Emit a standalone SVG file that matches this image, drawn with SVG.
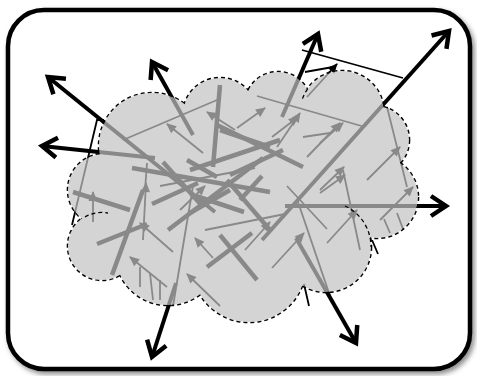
<svg xmlns="http://www.w3.org/2000/svg" xmlns:xlink="http://www.w3.org/1999/xlink" width="477" height="376" viewBox="0 0 477 376">
  <style>
    .big { fill: none; stroke: #000; stroke-width: 4; marker-end: url(#chev); }
    .k { fill: none; stroke: #000; stroke-width: 4.5; }
    .t { fill: none; stroke: #000; stroke-width: 1.8; }
    .a { fill: none; stroke: #000; stroke-width: 1.8; marker-end: url(#tri); }
    .seam { fill: none; stroke: #000; stroke-width: 1.3; stroke-dasharray: 4 3; }
  </style>
  <defs>
    <filter id="shadow" x="-5%" y="-5%" width="112%" height="112%">
      <feDropShadow dx="2.5" dy="3" stdDeviation="2.5" flood-color="#000" flood-opacity="0.45"/>
    </filter>
    <marker id="chev" markerUnits="userSpaceOnUse" markerWidth="34" markerHeight="34" viewBox="-22 -17 34 34" refX="0" refY="0" orient="auto" overflow="visible">
      <path d="M-15,-10 L0,0 L-15,10" fill="none" stroke="#000" stroke-width="4.5"/>
    </marker>
    <marker id="tri" markerUnits="userSpaceOnUse" markerWidth="14" markerHeight="14" viewBox="-12 -7 14 14" refX="0" refY="0" orient="auto" overflow="visible">
      <path d="M1,0 L-9,-4.5 L-9,4.5 Z" fill="#000"/>
    </marker>
    <!-- bumps of the cloud -->
    <g id="blobs">
      <circle cx="152" cy="146" r="53"/>
      <circle cx="220" cy="115" r="37"/>
      <circle cx="278" cy="105" r="33"/>
      <circle cx="342" cy="113" r="42"/>
      <circle cx="375" cy="140" r="34"/>
      <circle cx="377" cy="197" r="41"/>
      <circle cx="326" cy="247" r="45"/>
      <circle cx="249" cy="265" r="57"/>
      <circle cx="168" cy="252" r="53"/>
      <circle cx="102" cy="246" r="34"/>
      <circle cx="104" cy="190" r="36"/>
    </g>
    <polygon id="core" points="152,146 220,115 278,105 342,113 375,140 377,197 326,247 249,265 168,252 102,246 104,190"/>
    <mask id="rim" maskUnits="userSpaceOnUse" x="0" y="0" width="477" height="376">
      <rect width="477" height="376" fill="#fff"/>
      <use href="#blobs" fill="#000"/>
      <use href="#core" fill="#000"/>
    </mask>
  </defs>

  <!-- frame -->
  <g id="frame">
    <rect x="8" y="10" width="462" height="359" rx="36" ry="36" fill="#fff" stroke="#000" stroke-width="4.5" filter="url(#shadow)"/>
  </g>

  <!-- connectors: thick segments, thin baselines, small arrows, outward arrows -->
  <g id="connectors">
    <g id="thick">
      <line class="k" x1="220" y1="85" x2="213" y2="167"/>
      <line class="k" x1="217" y1="125" x2="303" y2="167"/>
      <line class="k" x1="190" y1="170" x2="280" y2="140"/>
      <line class="k" x1="230" y1="175" x2="283" y2="150"/>
      <line class="k" x1="132" y1="168" x2="270" y2="192"/>
      <line class="k" x1="163" y1="162" x2="203" y2="207"/>
      <line class="k" x1="187" y1="160" x2="217" y2="177"/>
      <line class="k" x1="168" y1="230" x2="263" y2="158"/>
      <line class="k" x1="220" y1="130" x2="270" y2="147"/>
      <line class="k" x1="227" y1="180" x2="270" y2="230"/>
      <line class="k" x1="190" y1="213" x2="230" y2="190"/>
      <line class="k" x1="220" y1="235" x2="257" y2="280"/>
      <line class="k" x1="207" y1="267" x2="252" y2="233"/>
      <line class="k" x1="73" y1="192" x2="130" y2="210"/>
      <line class="k" x1="143" y1="190" x2="112" y2="275"/>
      <line class="k" x1="97" y1="244" x2="147" y2="224"/>
      <line class="k" x1="152" y1="204" x2="198" y2="183"/>
      <line class="k" x1="196" y1="196" x2="244" y2="212"/>
      <line class="k" x1="240" y1="200" x2="262" y2="176"/>
    </g>
    <g id="thin">
      <line class="t" x1="123" y1="140" x2="217" y2="100"/>
      <line class="t" x1="257" y1="96" x2="365" y2="127"/>
      <polyline class="t" points="104,120 97,120 72,225"/>
      <line class="t" x1="302" y1="50" x2="403" y2="78"/>
      <line class="t" x1="305" y1="72" x2="333" y2="67"/>
      <line class="t" x1="193" y1="186" x2="173" y2="306"/>
      <line class="t" x1="297" y1="199" x2="330" y2="296"/>
      <line class="t" x1="287" y1="186" x2="327" y2="229"/>
      <line class="t" x1="387" y1="107" x2="407" y2="187"/>
      <line class="t" x1="343" y1="170" x2="360" y2="250"/>
      <line class="t" x1="147" y1="163" x2="145" y2="190"/>
      <line class="t" x1="303" y1="137" x2="330" y2="133"/>
      <line class="t" x1="140" y1="267" x2="140" y2="287"/>
      <line class="t" x1="150" y1="273" x2="153" y2="300"/>
      <line class="t" x1="160" y1="280" x2="160" y2="300"/>
      <line class="t" x1="384" y1="219" x2="390" y2="233"/>
      <line class="t" x1="397" y1="213" x2="403" y2="229"/>
      <line class="t" x1="304" y1="284" x2="309" y2="306"/>
      <line class="t" x1="372" y1="240" x2="378" y2="254"/>
      <line class="t" x1="160" y1="186" x2="255" y2="168"/>
      <line class="t" x1="205" y1="230" x2="285" y2="214"/>
    </g>
    <g id="small-arrows">
      <line class="a" x1="203" y1="153" x2="167" y2="124"/>
      <line class="a" x1="237" y1="128" x2="265" y2="108"/>
      <line class="a" x1="272" y1="137" x2="298" y2="117"/>
      <line class="a" x1="307" y1="97" x2="337" y2="64"/>
      <line class="a" x1="277" y1="147" x2="300" y2="113"/>
      <line class="a" x1="307" y1="157" x2="340" y2="123"/>
      <line class="a" x1="320" y1="190" x2="344" y2="167"/>
      <line class="a" x1="320" y1="143" x2="343" y2="123"/>
      <line class="a" x1="367" y1="180" x2="400" y2="147"/>
      <line class="a" x1="380" y1="220" x2="413" y2="187"/>
      <line class="a" x1="327" y1="243" x2="357" y2="210"/>
      <line class="a" x1="272" y1="268" x2="304" y2="233"/>
      <line class="a" x1="167" y1="287" x2="130" y2="257"/>
      <line class="a" x1="173" y1="252" x2="140" y2="223"/>
      <line class="a" x1="143" y1="240" x2="146" y2="183"/>
      <line class="a" x1="220" y1="306" x2="187" y2="274"/>
      <line class="a" x1="235" y1="130" x2="207" y2="112"/>
      <line class="a" x1="320" y1="193" x2="345" y2="175"/>
      <line class="a" x1="93" y1="222" x2="93" y2="192"/>
      <line class="a" x1="213" y1="258" x2="195" y2="238"/>
      <line class="a" x1="180" y1="210" x2="205" y2="186"/>
      <line class="a" x1="245" y1="250" x2="270" y2="222"/>
    </g>
    <g id="outward">
      <line class="big" x1="215" y1="212" x2="48" y2="77"/>
      <line class="big" x1="193" y1="135" x2="152" y2="62"/>
      <line class="big" x1="155" y1="158" x2="42" y2="146"/>
      <line class="big" x1="282" y1="117" x2="318" y2="34"/>
      <line class="big" x1="262" y1="240" x2="449" y2="31"/>
      <line class="big" x1="285" y1="206" x2="446" y2="206"/>
      <line class="big" x1="296" y1="238" x2="356" y2="343"/>
      <line class="big" x1="176" y1="283" x2="152" y2="357"/>
    </g>
  </g>

  <!-- translucent cloud over the lines -->
  <g id="cloud">
    <g opacity="0.7" fill="#c3c3c3">
      <use href="#blobs"/>
      <use href="#core"/>
    </g>
    <g mask="url(#rim)" fill="none" stroke="#000" stroke-width="2.6" stroke-dasharray="4 3">
      <use href="#blobs"/>
    </g>
    <path class="seam" d="M345,206 A45,45 0 0,1 371,247"/>
    <path class="seam" d="M85,217 A34,34 0 0,1 108,213"/>
    <path class="seam" d="M307.6,88.9 A42,42 0 0,0 302.5,98.6"/>
  </g>
</svg>
